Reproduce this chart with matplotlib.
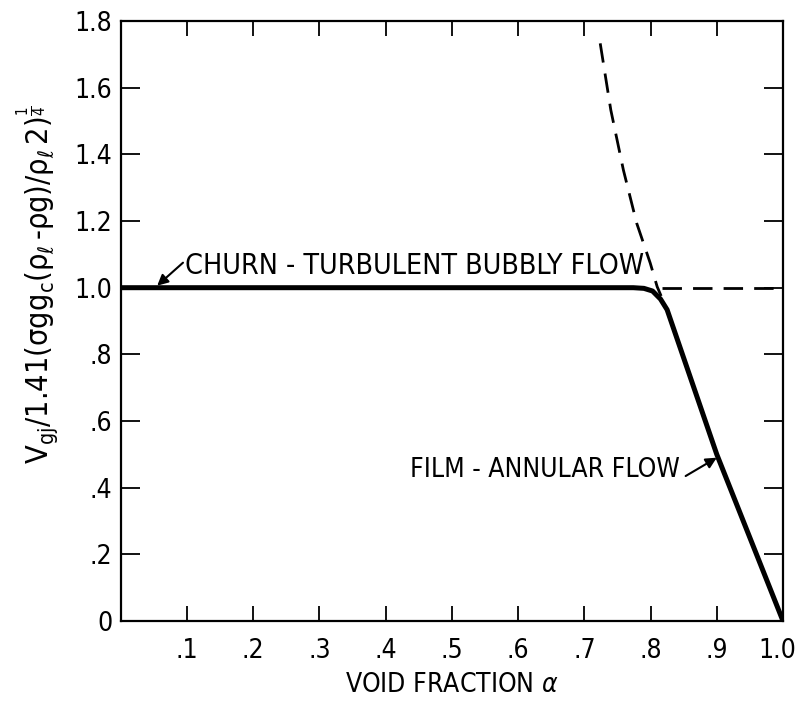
import matplotlib
matplotlib.use("Agg")
import matplotlib.pyplot as plt
from matplotlib import transforms

plt.rcParams['font.family'] = ['DejaVu Sans']
plt.rcParams['font.stretch'] = 'condensed'
plt.rcParams['mathtext.fontset'] = 'dejavusans'

# Solid curve (drift flux correlation)
solid_alpha = [0.0, 0.60, 0.774, 0.790, 0.803, 0.815, 0.825, 0.90, 1.0]
solid_v = [1.0, 1.0, 1.0, 0.998, 0.990, 0.966, 0.934, 0.50, 0.0]

# Dashed curve (annular-flow limit)
dash_alpha = [0.724, 0.740, 0.759, 0.779, 0.7995, 0.810, 0.816]
dash_v = [1.733, 1.533, 1.353, 1.194, 1.074, 1.003, 0.975]

# Dashed horizontal (bubbly-flow limit continuation)
hline_alpha = [0.818, 1.0]
hline_v = [1.0, 1.0]

x_ticks = [0.1, 0.2, 0.3, 0.4, 0.5, 0.6, 0.7, 0.8, 0.9, 1.0]
x_labels = ['.1', '.2', '.3', '.4', '.5', '.6', '.7', '.8', '.9', '1.0']
y_ticks = [0, 0.2, 0.4, 0.6, 0.8, 1.0, 1.2, 1.4, 1.6, 1.8]
y_labels = ['0', '.2', '.4', '.6', '.8', '1.0', '1.2', '1.4', '1.6', '1.8']

fig = plt.figure(figsize=(7.98, 7.03), dpi=100)
ax = fig.add_axes([0.1513, 0.1166, 0.9812 - 0.1513, 0.9701 - 0.1166])

ax.plot(solid_alpha, solid_v, color='black', lw=3.6, solid_joinstyle='round',
        solid_capstyle='round')
ax.plot(dash_alpha, dash_v, color='black', lw=2.0, dashes=(7, 4))
ax.plot(hline_alpha, hline_v, color='black', lw=2.0, dashes=(7, 4))

ax.set_xlim(0, 1.0)
ax.set_ylim(0, 1.8)
ax.set_xticks(x_ticks)
ax.set_xticklabels(x_labels)
ax.set_yticks(y_ticks)
ax.set_yticklabels(y_labels)

for s in ax.spines.values():
    s.set_linewidth(1.6)

ax.tick_params(axis='x', direction='in', length=11, width=1.3, top=True,
               labelsize=19, pad=12)
ax.tick_params(axis='y', direction='in', length=14, width=1.3, right=True,
               labelsize=19, pad=6)

# nudge the last x tick label left so it stays inside the figure
last = ax.get_xticklabels()[-1]
last.set_transform(last.get_transform() +
                   transforms.ScaledTranslation(-6 / 100, 0, fig.dpi_scale_trans))

ax.set_xlabel('VOID FRACTION $\\alpha$', fontsize=19, labelpad=6)

fig.text(0.048, 1 - 285 / 703,
         r'$\mathregular{V_{gj}/1.41(\sigma g g_c(\rho_\ell\,\text{-}\rho g)/\rho_\ell\,2)^{\frac{1}{4}}}$',
         rotation=90, ha='center', va='center', fontsize=22)

ax.text(0.097, 1.066, 'CHURN - TURBULENT BUBBLY FLOW', fontsize=20.5,
        va='center', ha='left')
ax.annotate('', xy=(0.055, 1.006), xytext=(0.094, 1.075),
            arrowprops=dict(arrowstyle='-|>', color='black', lw=1.5,
                            mutation_scale=16, shrinkA=0, shrinkB=0))
ax.text(0.845, 0.453, 'FILM - ANNULAR FLOW', fontsize=19,
        va='center', ha='right')
ax.annotate('', xy=(0.900, 0.49), xytext=(0.853, 0.435),
            arrowprops=dict(arrowstyle='-|>', color='black', lw=1.5,
                            mutation_scale=16, shrinkA=0, shrinkB=0))

fig.savefig('out.png', dpi=100)
